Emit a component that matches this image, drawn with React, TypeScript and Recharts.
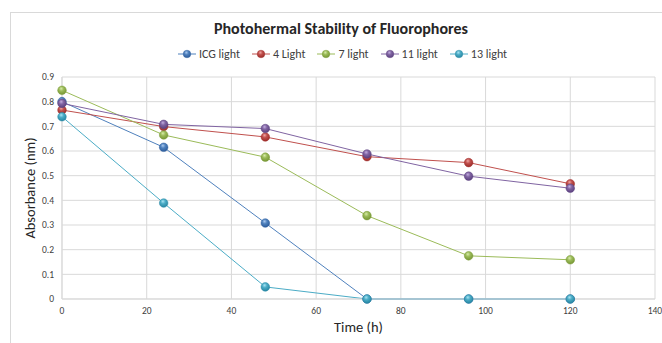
import React from "react";
import {
  LineChart,
  Line,
  XAxis,
  YAxis,
  CartesianGrid,
} from "recharts";

const hours = [0, 24, 48, 72, 96, 120];
const icg = [0.8, 0.615, 0.308, 0, 0, 0];
const light4 = [0.766, 0.699, 0.657, 0.577, 0.553, 0.467];
const light7 = [0.846, 0.665, 0.575, 0.338, 0.175, 0.159];
const light11 = [0.793, 0.708, 0.691, 0.588, 0.498, 0.449];
const light13 = [0.739, 0.389, 0.049, 0, 0, 0];
const xTicks = [0, 20, 40, 60, 80, 100, 120, 140];
const yTicks = [0, 0.1, 0.2, 0.3, 0.4, 0.5, 0.6, 0.7, 0.8, 0.9];

const series = [
  { key: "icg", name: "ICG light", values: icg, color: "#4F81BD", dark: "#2f5f9e", light: "#a9c8f0" },
  { key: "l4", name: "4 Light", values: light4, color: "#C0504D", dark: "#a02f2c", light: "#f0a5a2" },
  { key: "l7", name: "7 light", values: light7, color: "#9BBB59", dark: "#7a9a38", light: "#d8ecaa" },
  { key: "l11", name: "11 light", values: light11, color: "#8064A2", dark: "#5f4482", light: "#c2ade0" },
  { key: "l13", name: "13 light", values: light13, color: "#4BACC6", dark: "#2a8aa6", light: "#a8e4f4" },
];

const data = hours.map((h, i) => {
  const row: Record<string, number> = { h };
  series.forEach((s) => {
    row[s.key] = s.values[i];
  });
  return row;
});

const font = "Carlito, 'Liberation Sans', Arial, sans-serif";

function makeDot(s: (typeof series)[number]) {
  return (props: any) => {
    const { cx, cy, index } = props;
    if (cx == null || cy == null) return <g key={index} />;
    return (
      <circle
        key={index}
        cx={cx}
        cy={cy}
        r={4.3}
        fill={`url(#grad-${s.key})`}
        stroke={s.dark}
        strokeWidth={0.5}
      />
    );
  };
}

function LegendContent() {
  return (
    <div
      style={{
        position: "absolute",
        left: 178,
        top: 47,
        display: "flex",
        gap: 12,
        fontFamily: font,
        fontSize: 12,
        color: "#404040",
        whiteSpace: "nowrap",
      }}
    >
      {series.map((s) => (
        <div key={s.key} style={{ display: "flex", alignItems: "center" }}>
          <svg width={18} height={14} style={{ marginRight: 3 }}>
            <line x1={0} y1={7} x2={18} y2={7} stroke={s.color} strokeWidth={1} />
            <circle cx={9} cy={7} r={3.8} fill={`url(#grad-${s.key})`} stroke={s.dark} strokeWidth={0.4} />
          </svg>
          <span>{s.name}</span>
        </div>
      ))}
    </div>
  );
}

export default function App() {
  return (
    <div
      style={{
        position: "absolute",
        left: 0,
        top: 0,
        width: 662,
        height: 343,
        background: "#fff",
        fontFamily: font,
        overflow: "hidden",
      }}
    >
      <div
        style={{
          position: "absolute",
          left: 10,
          top: 12,
          width: 660,
          height: 340,
          border: "1px solid #d9d9d9",
        }}
      />
      <div
        style={{
          position: "absolute",
          top: 19,
          left: 0,
          width: 662,
          paddingLeft: 20,
          boxSizing: "border-box",
          textAlign: "center",
          fontWeight: "bold",
          fontSize: 16,
          color: "#262626",
        }}
      >
        Photohermal Stability of Fluorophores
      </div>
      <svg width={0} height={0} style={{ position: "absolute" }}>
        <defs>
          {series.map((s) => (
            <radialGradient key={s.key} id={`grad-${s.key}`} cx="45%" cy="35%" r="60%" fx="40%" fy="30%">
              <stop offset="0%" stopColor={s.light} />
              <stop offset="45%" stopColor={s.color} />
              <stop offset="100%" stopColor={s.dark} />
            </radialGradient>
          ))}
        </defs>
      </svg>
      <LegendContent />
      <LineChart
        width={662}
        height={343}
        data={data}
        margin={{ top: 77, right: 7, bottom: 14, left: 22 }}
        style={{ position: "absolute", left: 0, top: 0 }}
      >
        <CartesianGrid stroke="#d9d9d9" strokeWidth={1} />
        <XAxis
          dataKey="h"
          type="number"
          domain={[0, 140]}
          ticks={xTicks}
          axisLine={{ stroke: "#d9d9d9" }}
          tickLine={false}
          tick={{ fill: "#404040", fontSize: 9.5, fontFamily: font }}
          height={30}
          label={{
            value: "Time (h)",
            position: "insideBottom",
            offset: -3,
            style: { fill: "#262626", fontSize: 14.5, fontFamily: font },
          }}
        />
        <YAxis
          type="number"
          domain={[0, 0.9]}
          ticks={yTicks}
          axisLine={{ stroke: "#d9d9d9" }}
          tickLine={false}
          width={40}
          tick={{ fill: "#404040", fontSize: 9.5, fontFamily: font }}
          tickFormatter={(v: number) => (v === 0 ? "0" : v.toFixed(1))}
          label={{
            value: "Absorbance (nm)",
            angle: -90,
            position: "insideLeft",
            offset: 8,
            style: { fill: "#262626", fontSize: 14.5, textAnchor: "middle", fontFamily: font },
          }}
        />
        {series.map((s) => (
          <Line
            key={s.key}
            dataKey={s.key}
            name={s.name}
            stroke={s.color}
            strokeWidth={1}
            dot={makeDot(s)}
            activeDot={false}
            isAnimationActive={false}
          />
        ))}
      </LineChart>
    </div>
  );
}
